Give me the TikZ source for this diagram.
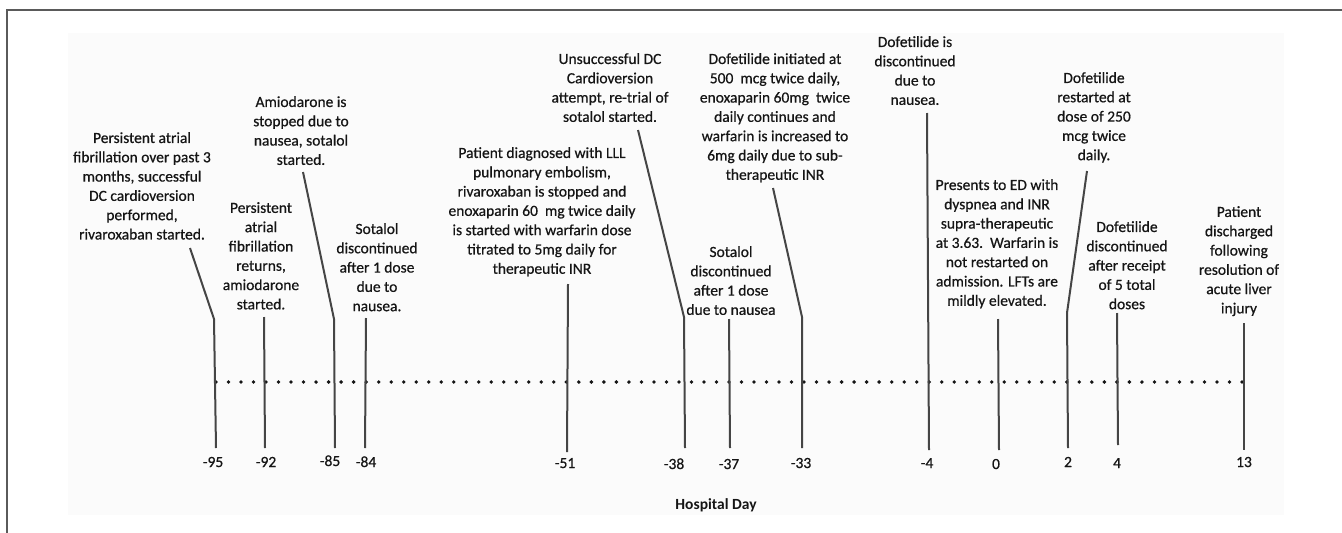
\documentclass[tikz,border=0pt]{standalone}
\usepackage{fontspec}
\setmainfont{Carlito}
\newfontfamily\lblfont{Carlito}[FakeBold=0.6]
\definecolor{txt}{HTML}{151515}
\definecolor{ln}{HTML}{454545}
\definecolor{framec}{HTML}{5A5A5A}
\definecolor{bgc}{HTML}{FBFBFB}
\begin{document}
\begin{tikzpicture}[x=1pt,y=-1pt,
  lbl/.style={align=center, inner sep=0pt, anchor=north, text=txt,
    font=\lblfont\fontsize{15.5}{19.3}\selectfont, execute at begin node={\rule{0pt}{12pt}}},
  tick/.style={inner sep=0pt, anchor=base, text=txt, font=\lblfont\fontsize{15.5}{19}\selectfont},
  axislbl/.style={inner sep=0pt, text=txt, font=\fontsize{15.5}{19}\selectfont\bfseries},
  leader/.style={draw=ln, line width=2pt, line join=round},
  frameline/.style={draw=framec, line width=1.6pt}]
\useasboundingbox (0,0) rectangle (1342,533);
\fill[bgc] (68,33) rectangle (1284,515);
\draw[frameline] (7,540) -- (7,10) -- (1350,10);

% dotted timeline
\foreach \i in {0,...,82} \fill[txt] ({216+\i*12.512},382) circle (1.9pt);

% event labels
\node[lbl] (L95) at (142,132) {Persistent atrial\\fibrillation over past 3\\months, successful\\DC cardioversion\\performed,\\rivaroxaban started.};
\node[lbl] (L92) at (261,202) {Persistent\\atrial\\fibrillation\\returns,\\amiodarone\\started.};
\node[lbl] (L85) at (301,96) {Amiodarone is\\stopped due to\\nausea, sotalol\\started.};
\node[lbl] (L84) at (377,223) {Sotalol\\discontinued\\after 1 dose\\due to\\nausea.};
\node[lbl] (L51) at (542,147) {Patient diagnosed with LLL\\pulmonary embolism,\\rivaroxaban is stopped and\\enoxaparin 60\ \ mg twice daily\\is started with warfarin dose\\titrated to 5mg daily for\\therapeutic INR};
\node[lbl] (L38) at (610,53) {Unsuccessful DC\\Cardioversion\\attempt, re-trial of\\sotalol started.};
\node[lbl] (L37) at (731,246) {Sotalol\\discontinued\\after 1 dose\\due to nausea};
\node[lbl] (L33) at (775,53) {Dofetilide initiated at\\500\ \ mcg twice daily,\\enoxaparin 60mg\ \ twice\\daily continues and\\warfarin is increased to\\6mg daily due to sub-\\therapeutic INR};
\node[lbl] (L4m) at (915,36) {Dofetilide is\\discontinued\\due to\\nausea.};
\node[lbl] (L0) at (997,179) {Presents to ED with\\dyspnea and INR\\supra-therapeutic\\at 3.63.\ \ Warfarin is\\not restarted on\\admission. LFTs are\\mildly elevated.};
\node[lbl] (L2) at (1094,72) {Dofetilide\\restarted at\\dose of 250\\mcg twice\\daily.};
\node[lbl] (L4) at (1127,221) {Dofetilide\\discontinued\\after receipt\\of 5 total\\doses};
\node[lbl] (L13) at (1239,206) {Patient\\discharged\\following\\resolution of\\acute liver\\injury};

% tick labels
\node[tick] (T95) at (213,467) {-95};
\node[tick] (T92) at (266,467) {-92};
\node[tick] (T85) at (330,466) {-85};
\node[tick] (T84) at (366,467) {-84};
\node[tick] (T51) at (565,468) {-51};
\node[tick] (T38) at (674,469) {-38};
\node[tick] (T37) at (729,469) {-37};
\node[tick] (T33) at (801,468) {-33};
\node[tick] (T4m) at (927,468) {-4};
\node[tick] (T0) at (996,469) {0};
\node[tick] (T2) at (1068,467) {2};
\node[tick] (T4) at (1117,468) {4};
\node[tick] (T13) at (1244,467) {13};

\node[axislbl] (HD) at (716,505) {Hospital Day};

% leader coordinates
\coordinate (a95) at (190,248); \coordinate (k95) at (214,319); \coordinate (b95) at (216,448);
\coordinate (a92) at (264,317); \coordinate (b92) at (265,448);
\coordinate (a85) at (303,172); \coordinate (k85) at (334,319); \coordinate (b85) at (335,448);
\coordinate (a84) at (366,318); \coordinate (b84) at (365,448);
\coordinate (a51) at (568,284); \coordinate (b51) at (567,452);
\coordinate (a38) at (638,130); \coordinate (k38) at (684,317); \coordinate (b38) at (685,448);
\coordinate (a37) at (729,319); \coordinate (b37) at (730,448);
\coordinate (a33) at (773,188); \coordinate (k33) at (802,317); \coordinate (b33) at (802,448);
\coordinate (a4m) at (927,113); \coordinate (b4m) at (929,450);
\coordinate (a0) at (998,319); \coordinate (b0) at (999,450);
\coordinate (a2) at (1087,171); \coordinate (k2) at (1067,313); \coordinate (b2) at (1068,448);
\coordinate (a4) at (1117,313); \coordinate (b4) at (1118,445);
\coordinate (a13) at (1244,323); \coordinate (b13) at (1244,450);

\draw[leader] (a95) -- (k95) -- (b95);
\draw[leader] (a92) -- (b92);
\draw[leader] (a85) -- (k85) -- (b85);
\draw[leader] (a84) -- (b84);
\draw[leader] (a51) -- (b51);
\draw[leader] (a38) -- (k38) -- (b38);
\draw[leader] (a37) -- (b37);
\draw[leader] (a33) -- (k33) -- (b33);
\draw[leader] (a4m) -- (b4m);
\draw[leader] (a0) -- (b0);
\draw[leader] (a2) -- (k2) -- (b2);
\draw[leader] (a4) -- (b4);
\draw[leader] (a13) -- (b13);
\end{tikzpicture}
\end{document}
